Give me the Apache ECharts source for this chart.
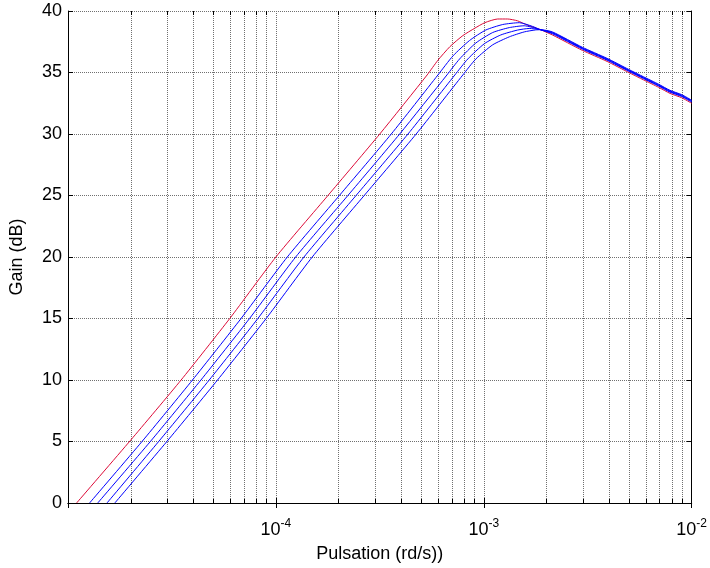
<!DOCTYPE html>
<html>
<head>
<meta charset="utf-8">
<script src="https://cdn.jsdelivr.net/npm/echarts@6/dist/echarts.min.js"></script>
<style>html,body{margin:0;padding:0;background:#fff}#c{width:710px;height:568px}</style>
</head>
<body>
<div id="c"></div>
<script>
// Pulsation (rd/s) and gain (dB)
const redX   = [1.10e-5, 2.0e-5, 3.5e-5, 6.0e-5, 1.0e-4, 1.78e-4, 3.16e-4, 5.34e-4, 6.02e-4, 6.87e-4, 7.93e-4, 9.05e-4, 1.011e-3, 1.167e-3, 1.302e-3, 1.454e-3, 1.623e-3, 1.874e-3, 2.14e-3, 2.98e-3, 3.92e-3, 4.98e-3, 5.87e-3, 6.93e-3, 7.87e-3, 8.95e-3, 1.0e-2];
const redY   = [0, 5.1, 10.0, 15.0, 20.0, 25.0, 30.0, 34.8, 36.0, 37.1, 38.0, 38.6, 39.05, 39.35, 39.35, 39.2, 38.85, 38.48, 38.05, 36.8, 35.9, 35.0, 34.4, 33.8, 33.3, 32.95, 32.5];

const blue1X = [1.27e-5, 2.27e-5, 3.97e-5, 6.8e-5, 1.135e-4, 2.02e-4, 3.59e-4, 6.02e-4, 7.11e-4, 8.54e-4, 1.022e-3, 1.233e-3, 1.482e-3, 1.715e-3, 1.874e-3, 2.14e-3, 2.98e-3, 3.92e-3, 4.98e-3, 5.87e-3, 6.93e-3, 7.87e-3, 8.95e-3, 1.0e-2];
const blue1Y = [0, 5, 10, 15, 20, 25, 30, 34.8, 36.35, 37.6, 38.45, 38.9, 39.05, 38.75, 38.48, 38.15, 36.9, 36.0, 35.1, 34.5, 33.9, 33.4, 33.05, 32.6];

const blue2X = [1.39e-5, 2.49e-5, 4.36e-5, 7.47e-5, 1.245e-4, 2.22e-4, 3.94e-4, 6.65e-4, 7.65e-4, 9.16e-4, 1.104e-3, 1.327e-3, 1.565e-3, 1.874e-3, 2.14e-3, 2.98e-3, 3.92e-3, 4.98e-3, 5.87e-3, 6.93e-3, 7.87e-3, 8.95e-3, 1.0e-2];
const blue2Y = [0, 5, 10, 15, 20, 25, 30, 34.8, 36.1, 37.4, 38.25, 38.65, 38.8, 38.48, 38.2, 36.95, 36.05, 35.15, 34.55, 33.95, 33.45, 33.1, 32.65];

const blue3X = [1.54e-5, 2.73e-5, 4.78e-5, 8.19e-5, 1.365e-4, 2.43e-4, 4.32e-4, 7.26e-4, 8.38e-4, 1.008e-3, 1.206e-3, 1.454e-3, 1.654e-3, 1.874e-3, 2.14e-3, 2.98e-3, 3.92e-3, 4.98e-3, 5.87e-3, 6.93e-3, 7.87e-3, 8.95e-3, 1.0e-2];
const blue3Y = [0, 5, 10, 15, 20, 25, 30, 34.8, 36.1, 37.35, 38.05, 38.45, 38.58, 38.48, 38.25, 37.0, 36.1, 35.2, 34.6, 34.0, 33.5, 33.15, 32.7];

const blue4X = [1.68e-5, 2.99e-5, 5.24e-5, 8.98e-5, 1.496e-4, 2.66e-4, 4.73e-4, 7.93e-4, 9.16e-4, 1.104e-3, 1.327e-3, 1.565e-3, 1.773e-3, 1.874e-3, 2.14e-3, 2.98e-3, 3.92e-3, 4.98e-3, 5.87e-3, 6.93e-3, 7.87e-3, 8.95e-3, 1.0e-2];
const blue4Y = [0, 5, 10, 15, 20, 25, 30, 34.8, 36.1, 37.25, 37.9, 38.3, 38.46, 38.48, 38.3, 37.05, 36.15, 35.25, 34.65, 34.05, 33.55, 33.2, 32.75];

// axis ticks
const yTicks = [0, 5, 10, 15, 20, 25, 30, 35, 40];
const xMajorTicks = [1e-5, 1e-4, 1e-3, 1e-2];
const xMinorTicks = [2e-5, 3e-5, 4e-5, 5e-5, 6e-5, 7e-5, 8e-5, 9e-5,
                     2e-4, 3e-4, 4e-4, 5e-4, 6e-4, 7e-4, 8e-4, 9e-4,
                     2e-3, 3e-3, 4e-3, 5e-3, 6e-3, 7e-3, 8e-3, 9e-3];
const xTitle = 'Pulsation (rd/s))';
const yTitle = 'Gain (dB)';

const zip = (xs, ys) => xs.map((x, i) => [x, ys[i]]);
const FONT = 'Liberation Sans, Arial, sans-serif';
const GRID_COLOR = '#707070';
const gridLine = { color: GRID_COLOR, width: 1, type: [1, 1] };
const Y_MIN = yTicks[0], Y_MAX = yTicks[yTicks.length - 1];

const chart = echarts.init(document.getElementById('c'), null, { renderer: 'canvas' });
const mkLine = (name, xs, ys, color) => ({
  name, type: 'line', data: zip(xs, ys), showSymbol: false, symbol: 'none',
  smooth: 0.2,
  lineStyle: { color, width: 1 }, itemStyle: { color }, animation: false, z: 5
});

// minor log grid lines + inside minor tick marks, positioned by the axes (api.coord)
const minorGridSeries = {
  type: 'custom', name: 'minorGrid', silent: true, z: 1, animation: false,
  clip: false,
  data: xMinorTicks.map(v => [v]),
  encode: { x: 0 },
  renderItem: (params, api) => {
    const v = api.value(0);
    const pb = api.coord([v, Y_MIN]);
    const pt = api.coord([v, Y_MAX]);
    const x = Math.round(pb[0]) + 0.5;
    return {
      type: 'group',
      children: [
        { type: 'line', shape: { x1: x, y1: pb[1], x2: x, y2: pt[1] },
          style: { stroke: GRID_COLOR, lineWidth: 1, lineDash: [1, 1] } },
        { type: 'line', shape: { x1: x, y1: pb[1], x2: x, y2: pb[1] - 4 },
          style: { stroke: '#000', lineWidth: 1 } },
        { type: 'line', shape: { x1: x, y1: pt[1], x2: x, y2: pt[1] + 4 },
          style: { stroke: '#000', lineWidth: 1 } }
      ]
    };
  }
};

chart.setOption({
  animation: false,
  backgroundColor: '#fff',
  textStyle: { fontFamily: FONT },
  grid: { left: 68, right: 15, top: 11, bottom: 63, containLabel: false },
  xAxis: [{
    type: 'log', logBase: 10, min: xMajorTicks[0], max: xMajorTicks[xMajorTicks.length - 1],
    position: 'bottom',
    name: xTitle, nameLocation: 'middle', nameGap: 42,
    nameTextStyle: { fontSize: 18, color: '#000', fontFamily: FONT },
    axisLine: { show: true, lineStyle: { color: '#000', width: 1 } },
    axisTick: { show: true, inside: true, length: 5, lineStyle: { color: '#000' } },
    splitLine: { show: true, lineStyle: gridLine },
    axisLabel: {
      show: true, margin: 15, showMinLabel: false,
      formatter: v => '{b|10}{s|' + Math.round(Math.log10(v)) + '}',
      rich: {
        b: { fontSize: 18, color: '#000', fontFamily: FONT, verticalAlign: 'bottom' },
        s: { fontSize: 12, color: '#000', fontFamily: FONT, verticalAlign: 'bottom', padding: [0, 0, 9, 0] }
      }
    }
  }, {
    type: 'log', logBase: 10, min: xMajorTicks[0], max: xMajorTicks[xMajorTicks.length - 1],
    position: 'top',
    axisLine: { show: true, lineStyle: { color: '#000', width: 1 } },
    axisTick: { show: true, inside: true, length: 5, lineStyle: { color: '#000' } },
    splitLine: { show: false }, axisLabel: { show: false }
  }],
  yAxis: [{
    type: 'value', min: Y_MIN, max: Y_MAX, interval: 5,
    name: yTitle, nameLocation: 'middle', nameGap: 42, nameRotate: 90,
    nameTextStyle: { fontSize: 18, color: '#000', fontFamily: FONT },
    axisLine: { show: true, lineStyle: { color: '#000', width: 1 } },
    axisTick: { show: true, inside: true, length: 5, lineStyle: { color: '#000' } },
    splitLine: { show: true, lineStyle: gridLine },
    axisLabel: { fontSize: 18, color: '#000', margin: 6, fontFamily: FONT }
  }, {
    type: 'value', min: Y_MIN, max: Y_MAX, interval: 5, position: 'right',
    axisLine: { show: true, lineStyle: { color: '#000', width: 1 } },
    axisTick: { show: true, inside: true, length: 5, lineStyle: { color: '#000' } },
    splitLine: { show: false }, axisLabel: { show: false }
  }],
  series: [
    minorGridSeries,
    mkLine('red', redX, redY, '#dc0a37'),
    mkLine('blue1', blue1X, blue1Y, '#0000ff'),
    mkLine('blue2', blue2X, blue2Y, '#0000ff'),
    mkLine('blue3', blue3X, blue3Y, '#0000ff'),
    mkLine('blue4', blue4X, blue4Y, '#0000ff')
  ]
});
</script>
</body>
</html>
